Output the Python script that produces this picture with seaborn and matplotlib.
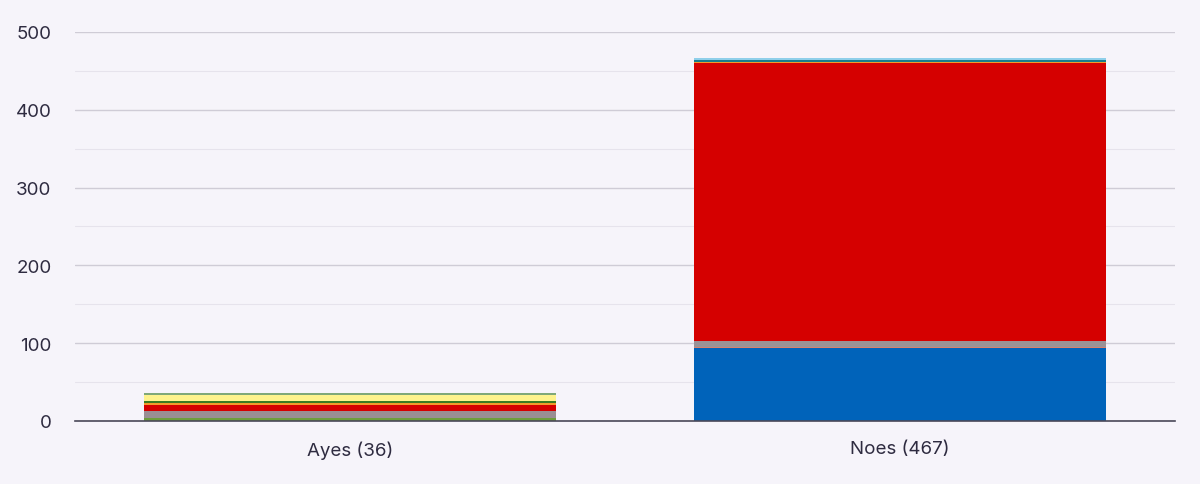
import pandas as pd
import seaborn as sns
import matplotlib.pyplot as plt
from matplotlib.ticker import MultipleLocator

# Division result: seats per party, stacked bottom to top
categories = ["Ayes (36)", "Noes (467)"]

ayes_values = [4, 9, 7, 3, 3, 7, 3]
ayes_colors = ["#6E9E3C", "#9A8F93", "#D50000", "#F39A2B", "#3B7A22", "#FDF28C", "#7FA878"]

noes_values = [94, 1, 8, 357, 1, 3, 3]
noes_colors = ["#0063BA", "#D9826E", "#9A9397", "#D50000", "#F39A2B", "#1A7C8C", "#8FCFEA"]

bg = "#F6F4FA"
text_color = "#2E2B40"

sns.set_theme(style="white")
plt.rcParams["font.family"] = ["Inter", "DejaVu Sans"]

fig = plt.figure(figsize=(12, 4.85), dpi=100, facecolor=bg)
ax = fig.add_axes([0.0625, 0.13, 0.9165, 0.802])
ax.set_facecolor(bg)

# stacked bars: draw cumulative totals from the top segment down
for cat, values, colors in [(categories[0], ayes_values, ayes_colors),
                            (categories[1], noes_values, noes_colors)]:
    df = pd.DataFrame({"seg": range(len(values)), "value": values, "color": colors})
    df["cum"] = df["value"].cumsum()
    for _, row in df[::-1].iterrows():
        sns.barplot(x=[cat], y=[row["cum"]], order=categories, color=row["color"],
                    width=0.75, saturation=1, linewidth=0, ax=ax, zorder=3)

ax.set_ylim(0, 500)
ax.set_xlim(-0.5, 1.5)
ax.yaxis.set_major_locator(MultipleLocator(100))
ax.yaxis.set_minor_locator(MultipleLocator(50))
ax.grid(axis="y", which="major", color="#CFCCD6", linewidth=1, zorder=0)
ax.grid(axis="y", which="minor", color="#E6E3EC", linewidth=0.8, zorder=0)
ax.set_axisbelow(True)

for s in ["top", "right", "left"]:
    ax.spines[s].set_visible(False)
ax.spines["bottom"].set_color("#4A4858")
ax.spines["bottom"].set_linewidth(1.2)
ax.spines["bottom"].set_zorder(5)

ax.tick_params(axis="both", which="both", length=0, labelsize=13.5, colors=text_color)
ax.tick_params(axis="x", pad=14)
ax.tick_params(axis="y", pad=17)
ax.set_xlabel("")
ax.set_ylabel("")

plt.savefig("out.png", dpi=100, facecolor=bg)
